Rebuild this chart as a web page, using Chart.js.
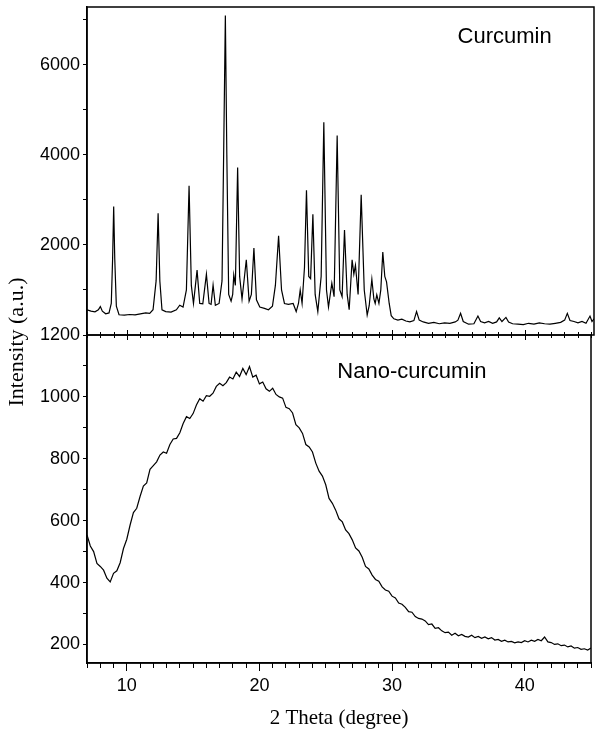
<!DOCTYPE html>
<html>
<head>
<meta charset="utf-8">
<script src="https://cdn.jsdelivr.net/npm/chart.js@4/dist/chart.umd.min.js"></script>
<style>
  body { margin: 0; background: #fff; }
  #wrap { position: relative; width: 595px; height: 731px; }
  #wrap canvas { position: absolute; left: 0; }
  #topChart { top: 0; }
  #botChart { top: 260px; }
</style>
</head>
<body>
<div id="wrap">
  <canvas id="topChart" width="595" height="340"></canvas>
  <canvas id="botChart" width="595" height="471"></canvas>
</div>
<script>
// Curcumin (crystalline) pattern
var curTheta = [7.00, 7.30, 7.60, 7.85, 8.00, 8.15, 8.40, 8.65, 8.82, 8.92, 9.00, 9.08, 9.20, 9.40, 9.80,
  10.20, 10.60, 11.00, 11.40, 11.70, 11.95, 12.18, 12.33, 12.46, 12.62, 12.90, 13.30, 13.70, 13.95,
  14.20, 14.45, 14.65, 14.82, 14.98, 15.25, 15.45, 15.68, 15.95, 16.15, 16.30, 16.45, 16.62, 16.90,
  17.12, 17.25, 17.37, 17.48, 17.62, 17.80, 17.92, 18.00, 18.12, 18.29, 18.44, 18.62, 18.94, 19.15, 19.32,
  19.51, 19.70, 19.95, 20.30, 20.60, 20.90, 21.12, 21.36, 21.58, 21.80, 22.10, 22.45, 22.68, 22.85,
  22.98, 23.12, 23.30, 23.45, 23.62, 23.76, 23.93, 24.10, 24.30, 24.55, 24.75, 24.95, 25.10, 25.35,
  25.52, 25.75, 25.95, 26.12, 26.30, 26.50, 26.65, 26.87, 27.00, 27.12, 27.32, 27.55, 27.78, 28.00,
  28.15, 28.35, 28.50, 28.60, 28.72, 28.88, 29.02, 29.17, 29.32, 29.45, 29.65, 29.80, 30.00, 30.30,
  30.60, 30.90, 31.20, 31.50, 31.70, 31.90, 32.20, 32.60, 33.00, 33.40, 33.80, 34.20, 34.60, 34.80,
  35.00, 35.20, 35.60, 36.00, 36.30, 36.50, 36.80, 37.10, 37.40, 37.70, 37.90, 38.10, 38.40, 38.60,
  38.90, 39.30, 39.70, 40.10, 40.50, 40.90, 41.30, 41.70, 42.10, 42.50, 42.80, 43.00, 43.20, 43.50,
  43.80, 44.10, 44.40, 44.70, 44.85, 45.00];
var curCounts = [560, 530, 515, 560, 630, 530, 470, 490, 700, 1700, 2850, 1700, 640, 450, 440,
  455, 445, 470, 490, 480, 560, 1200, 2700, 1200, 560, 520, 510, 560, 660,
  620, 1000, 3310, 1100, 700, 1440, 700, 690, 1350, 700, 680, 1110, 660, 700,
  1200, 4200, 7090, 4000, 900, 750, 900, 1330, 1100, 3720, 1300, 800, 1670, 750, 900,
  1930, 780, 620, 590, 560, 640, 1100, 2200, 1000, 700, 680, 700, 520, 700,
  1000, 700, 1500, 3210, 1300, 1250, 2680, 900, 520, 1300, 4720, 1000, 620, 1150,
  850, 4430, 1000, 850, 2330, 900, 560, 1670, 1350, 1550, 900, 3110, 1000, 444,
  650, 1240, 800, 700, 890, 700, 1000, 1840, 1300, 1180, 700, 430, 360, 330,
  350, 310, 290, 320, 520, 330, 290, 260, 280, 250, 270, 260, 290, 330,
  480, 300, 240, 250, 420, 300, 270, 300, 260, 290, 380, 300, 390, 290,
  250, 240, 230, 260, 240, 270, 250, 240, 260, 280, 330, 480, 320, 300,
  270, 300, 260, 420, 300, 360];

// Nano-curcumin (amorphous) pattern, 0.25 degree steps
var nanoTheta = [7.00, 7.25, 7.50, 7.75, 8.00, 8.25, 8.50, 8.75, 9.00, 9.25, 9.50, 9.75,
  10.00, 10.25, 10.50, 10.75, 11.00, 11.25, 11.50, 11.75, 12.00, 12.25, 12.50, 12.75,
  13.00, 13.25, 13.50, 13.75, 14.00, 14.25, 14.50, 14.75, 15.00, 15.25, 15.50, 15.75,
  16.00, 16.25, 16.50, 16.75, 17.00, 17.25, 17.50, 17.75, 18.00, 18.25, 18.50, 18.75,
  19.00, 19.25, 19.50, 19.75, 20.00, 20.25, 20.50, 20.75, 21.00, 21.25, 21.50, 21.75,
  22.00, 22.25, 22.50, 22.75, 23.00, 23.25, 23.50, 23.75, 24.00, 24.25, 24.50, 24.75,
  25.00, 25.25, 25.50, 25.75, 26.00, 26.25, 26.50, 26.75, 27.00, 27.25, 27.50, 27.75,
  28.00, 28.25, 28.50, 28.75, 29.00, 29.25, 29.50, 29.75, 30.00, 30.25, 30.50, 30.75,
  31.00, 31.25, 31.50, 31.75, 32.00, 32.25, 32.50, 32.75, 33.00, 33.25, 33.50, 33.75,
  34.00, 34.25, 34.50, 34.75, 35.00, 35.25, 35.50, 35.75, 36.00, 36.25, 36.50, 36.75,
  37.00, 37.25, 37.50, 37.75, 38.00, 38.25, 38.50, 38.75, 39.00, 39.25, 39.50, 39.75,
  40.00, 40.25, 40.50, 40.75, 41.00, 41.25, 41.50, 41.75, 42.00, 42.25, 42.50, 42.75,
  43.00, 43.25, 43.50, 43.75, 44.00, 44.25, 44.50, 44.75, 45.00];
var nanoCounts = [554, 518, 500, 462, 452, 440, 414, 402, 430, 438, 464, 510,
  540, 586, 626, 640, 678, 712, 722, 766, 778, 790, 812, 822,
  818, 846, 864, 866, 884, 914, 936, 930, 946, 974, 994, 986,
  1004, 1002, 1012, 1034, 1044, 1036, 1046, 1064, 1058, 1080, 1066, 1092,
  1072, 1098, 1064, 1070, 1042, 1048, 1026, 1018, 1028, 1008, 1000, 996,
  966, 962, 948, 910, 900, 882, 846, 838, 822, 786, 760, 744,
  716, 672, 656, 634, 606, 596, 570, 558, 538, 512, 502, 482,
  452, 444, 424, 410, 404, 386, 376, 372, 356, 350, 334, 330,
  320, 306, 304, 290, 284, 282, 276, 264, 266, 252, 254, 244,
  238, 240, 230, 236, 228, 232, 226, 224, 230, 222, 226, 220,
  224, 218, 222, 214, 216, 210, 214, 208, 210, 205, 208, 206,
  212, 208, 214, 210, 216, 212, 224, 208, 206, 200, 202, 196,
  198, 192, 195, 188, 190, 184, 186, 182, 188];

var xLabels = [10, 20, 30, 40];
var topTickValues = [0, 1000, 2000, 3000, 4000, 5000, 6000, 7000];
var topLabels = [2000, 4000, 6000];
var botTickValues = [200, 300, 400, 500, 600, 700, 800, 900, 1000, 1100, 1200];
var botLabels = [200, 400, 600, 800, 1000, 1200];
var sampleNames = ['Curcumin', 'Nano-curcumin'];

var tickFont = { family: '"Liberation Sans", Arial, sans-serif', size: 18 };
var titleFont = { family: '"Liberation Serif", "Times New Roman", serif', size: 21 };
var labelFont = '22px "Liberation Sans", Arial, sans-serif';

function pairs(xs, ys) {
  return xs.map(function (t, i) { return { x: t, y: ys[i] }; });
}

function yAxis(min, max, tickValues, labels) {
  return {
    type: 'linear',
    position: 'left',
    min: min,
    max: max,
    afterBuildTicks: function (s) {
      s.ticks = tickValues.map(function (v) { return { value: v }; });
    },
    ticks: {
      autoSkip: false,
      padding: 3,
      color: '#000',
      font: tickFont,
      callback: function (v) { return labels.indexOf(v) >= 0 ? String(v) : ''; }
    },
    grid: { drawOnChartArea: false, tickLength: 4, tickColor: '#000' },
    border: { color: '#000', width: 1.5 },
    afterFit: function (s) {
      s.width = 87;
      s.paddingTop = 0;
      s.paddingBottom = 0;
    }
  };
}

function lineSet(name, xs, ys) {
  return {
    label: name,
    data: pairs(xs, ys),
    borderColor: '#000',
    borderWidth: 1.2,
    pointRadius: 0,
    tension: 0
  };
}

// frame around a panel
var boxPlugin = {
  id: 'box',
  afterDraw: function (chart) {
    var ctx = chart.ctx, a = chart.chartArea;
    ctx.save();
    ctx.strokeStyle = '#000';
    ctx.lineWidth = 1.5;
    ctx.strokeRect(a.left, a.top, a.right - a.left, a.bottom - a.top);
    ctx.restore();
  }
};

// top panel: sample name
var topTextPlugin = {
  id: 'topText',
  afterDraw: function (chart) {
    var ctx = chart.ctx;
    ctx.save();
    ctx.fillStyle = '#000';
    ctx.textAlign = 'center';
    ctx.textBaseline = 'middle';
    ctx.font = labelFont;
    ctx.fillText(sampleNames[0], chart.scales.x.getPixelForValue(38.3), chart.scales.y.getPixelForValue(6620));
    ctx.restore();
  }
};

// bottom panel: divider ticks, sample name and the shared y title
var botTextPlugin = {
  id: 'botText',
  afterDraw: function (chart) {
    var ctx = chart.ctx, x = chart.scales.x, y = chart.scales.y;
    var mid = chart.chartArea.top;
    ctx.save();
    ctx.strokeStyle = '#000';
    ctx.lineWidth = 1;
    ctx.beginPath();
    for (var t = 7; t <= 45; t++) {
      var px = Math.round(x.getPixelForValue(t)) + 0.5;
      var h = t % 10 === 0 ? 5 : 3;
      ctx.moveTo(px, mid - h);
      ctx.lineTo(px, mid + h);
    }
    ctx.stroke();

    ctx.fillStyle = '#000';
    ctx.textAlign = 'center';
    ctx.textBaseline = 'middle';
    ctx.font = labelFont;
    ctx.fillText(sampleNames[1], x.getPixelForValue(31.5), y.getPixelForValue(1081));

    ctx.translate(17, 82);
    ctx.rotate(-Math.PI / 2);
    ctx.font = '22px "Liberation Serif", "Times New Roman", serif';
    ctx.fillText('Intensity (a.u.)', 0, 0);
    ctx.restore();
  }
};

var topChart = new Chart(document.getElementById('topChart'), {
  type: 'line',
  data: { datasets: [lineSet(sampleNames[0], curTheta, curCounts)] },
  options: {
    responsive: false,
    animation: false,
    layout: { autoPadding: false, padding: { top: 7, right: 1, left: 0, bottom: 5 } },
    plugins: { legend: { display: false }, tooltip: { enabled: false } },
    scales: {
      x: { type: 'linear', min: 7, max: 45, display: false },
      y: yAxis(0, 7280, topTickValues, topLabels)
    }
  },
  plugins: [boxPlugin, topTextPlugin]
});

var botChart = new Chart(document.getElementById('botChart'), {
  type: 'line',
  data: { datasets: [lineSet(sampleNames[1], nanoTheta, nanoCounts)] },
  options: {
    responsive: false,
    animation: false,
    layout: { autoPadding: false, padding: { top: 75, right: 1, left: 0, bottom: 0 } },
    plugins: { legend: { display: false }, tooltip: { enabled: false } },
    scales: {
      x: {
        type: 'linear',
        position: 'bottom',
        min: 7,
        max: 45,
        afterBuildTicks: function (s) {
          s.ticks = s.ticks.filter(function (t) { return Number.isInteger(t.value); });
        },
        ticks: {
          stepSize: 1,
          autoSkip: false,
          maxRotation: 0,
          padding: 4,
          color: '#000',
          font: tickFont,
          callback: function (v) { return xLabels.indexOf(v) >= 0 ? String(v) : ''; }
        },
        grid: {
          drawOnChartArea: false,
          tickLength: 8,
          tickWidth: 1,
          tickColor: function (c) { return c.tick && c.tick.value % 10 === 0 ? '#000' : 'rgba(0,0,0,0)'; }
        },
        border: { color: '#000', width: 1.5 },
        title: {
          display: true,
          text: '2 Theta (degree)',
          color: '#000',
          font: titleFont,
          padding: { top: 0, bottom: 0 }
        },
        afterFit: function (s) { s.height = 68; }
      },
      xMinor: {
        type: 'linear',
        position: { y: 140 },
        min: 7,
        max: 45,
        ticks: { stepSize: 1, autoSkip: false, display: false },
        grid: { drawOnChartArea: false, tickLength: 5, tickWidth: 1, tickColor: '#000' },
        border: { display: false }
      },
      y: yAxis(140, 1200, botTickValues, botLabels)
    }
  },
  plugins: [boxPlugin, botTextPlugin]
});
</script>
</body>
</html>
